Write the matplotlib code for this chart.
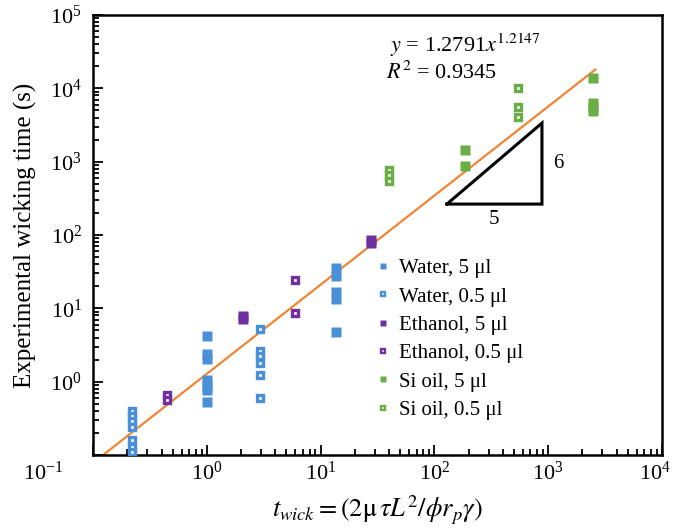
import numpy as np
import matplotlib
matplotlib.use("Agg")
import matplotlib.pyplot as plt
from matplotlib.lines import Line2D
from matplotlib.ticker import LogLocator, LogFormatterMathtext, NullFormatter
from matplotlib.transforms import ScaledTranslation

plt.rcParams['font.family'] = 'serif'
plt.rcParams['font.serif'] = ['Liberation Serif', 'DejaVu Serif']
plt.rcParams['mathtext.fontset'] = 'stix'

# data
water5_x = [1.0] * 7 + [13.6] * 5
water5_y = [4.2, 2.4, 2.05, 1.05, 0.9, 0.78, 0.52, 35, 28, 16.5, 13.5, 4.7]

water05_x = [0.22] * 7 + [2.93] * 6
water05_y = [0.40, 0.34, 0.29, 0.24, 0.16, 0.13, 0.11, 5.3, 2.65, 2.25, 1.8, 1.25, 0.6]

eth5_x = [2.08, 2.08, 27.7, 27.7]
eth5_y = [7.9, 7.1, 86, 78]

eth05_x = [0.45, 0.45, 5.96, 5.96]
eth05_y = [0.66, 0.56, 24.5, 8.6]

si5_x = [186, 186, 2500, 2500, 2500, 2500]
si5_y = [1450, 880, 13800, 6400, 5600, 4900]

si05_x = [40, 40, 40, 543, 543, 543]
si05_y = [770, 655, 545, 10100, 5560, 4060]

fit_a = 1.2791
fit_b = 1.2147
fit_x = [0.12, 2600]

tri_x = [129, 884, 884, 129]
tri_y = [264, 264, 3360, 264]

labels = ['Water, 5 \u03bcl', 'Water, 0.5 \u03bcl', 'Ethanol, 5 \u03bcl',
          'Ethanol, 0.5 \u03bcl', 'Si oil, 5 \u03bcl', 'Si oil, 0.5 \u03bcl']

c_blue = '#4A90D9'
c_purple = '#7030A0'
c_green = '#6AAE45'
c_orange = '#F28433'

fig = plt.figure(figsize=(6.76, 5.30), dpi=100)
ax = fig.add_axes([0.1376, 0.1415, 0.8414, 0.8302])

xs = np.logspace(np.log10(fit_x[0]), np.log10(fit_x[1]), 200)
ax.plot(xs, fit_a * xs ** fit_b, color=c_orange, lw=1.6, zorder=2)

ms = 6.5
oms = 4.0
omew = 2.4
series = [(water5_x, water5_y, c_blue, True), (water05_x, water05_y, c_blue, False),
          (eth5_x, eth5_y, c_purple, True), (eth05_x, eth05_y, c_purple, False),
          (si5_x, si5_y, c_green, True), (si05_x, si05_y, c_green, False)]
handles = []
for x, y, c, filled in series:
    if filled:
        ax.plot(x, y, 's', color=c, ms=ms, mec='none', zorder=3)
        handles.append(Line2D([], [], ls='', marker='s', color=c, ms=5, mec='none'))
    else:
        ax.plot(x, y, 's', color=c, mfc='white', ms=oms, mew=omew, zorder=3)
        handles.append(Line2D([], [], ls='', marker='s', color=c, mfc='white', ms=3.3, mew=1.7))

# slope triangle
ax.plot(tri_x, tri_y, color='black', lw=2.2, solid_joinstyle='miter', zorder=2)
ax.text(np.sqrt(tri_x[0] * tri_x[1]), tri_y[0] * 0.82, '5', fontsize=15, ha='center', va='top')
ax.text(tri_x[1] * 1.25, np.sqrt(tri_y[1] * tri_y[2]), '6', fontsize=15, ha='left', va='center')

ax.text(0.655, 0.932, r'$\mathit{y}$ = 1.2791$\mathit{x}^{1.2147}$', transform=ax.transAxes,
        fontsize=16, ha='center', va='center')
ax.text(0.612, 0.868, r'$\mathit{R}^2$ = 0.9345', transform=ax.transAxes,
        fontsize=16, ha='center', va='center')

ax.set_xscale('log')
ax.set_yscale('log')
ax.set_xlim(1e-1, 1e4)
ax.set_ylim(1e-1, 1e5)

for a in (ax.xaxis, ax.yaxis):
    a.set_major_locator(LogLocator(base=10, numticks=12))
    a.set_minor_locator(LogLocator(base=10, subs=np.arange(2, 10), numticks=12))
    a.set_major_formatter(LogFormatterMathtext())
    a.set_minor_formatter(NullFormatter())

ax.tick_params(which='both', direction='in', top=False, right=False, labelsize=16, width=1.3)
ax.tick_params(which='major', length=7)
ax.tick_params(which='minor', length=4)
ax.tick_params(axis='y', pad=8)
ax.tick_params(axis='x', pad=5)
for s in ax.spines.values():
    s.set_linewidth(1.8)

fig.canvas.draw()
for lab in ax.get_yticklabels():
    if lab.get_position()[1] <= 0.11:
        lab.set_visible(False)
for lab in ax.get_xticklabels():
    if lab.get_position()[0] <= 0.11:
        lab.set_transform(lab.get_transform() + ScaledTranslation(-0.5, 0, fig.dpi_scale_trans))
    elif lab.get_position()[0] >= 9000:
        lab.set_transform(lab.get_transform() + ScaledTranslation(-0.07, 0, fig.dpi_scale_trans))

ax.set_ylabel('Experimental wicking time (s)', fontsize=18, labelpad=9)
ax.set_xlabel(r'$t_{wick} = (2\mathrm{\mu}\,\tau L^2/\phi r_p\gamma)$', fontsize=19, labelpad=6)

ax.legend(handles, labels, loc='upper left', bbox_to_anchor=(0.48, 0.47), frameon=False, fontsize=15,
          handlelength=0.6, handletextpad=0.5, labelspacing=0.42, borderpad=0)

fig.savefig('out.png', dpi=100)
